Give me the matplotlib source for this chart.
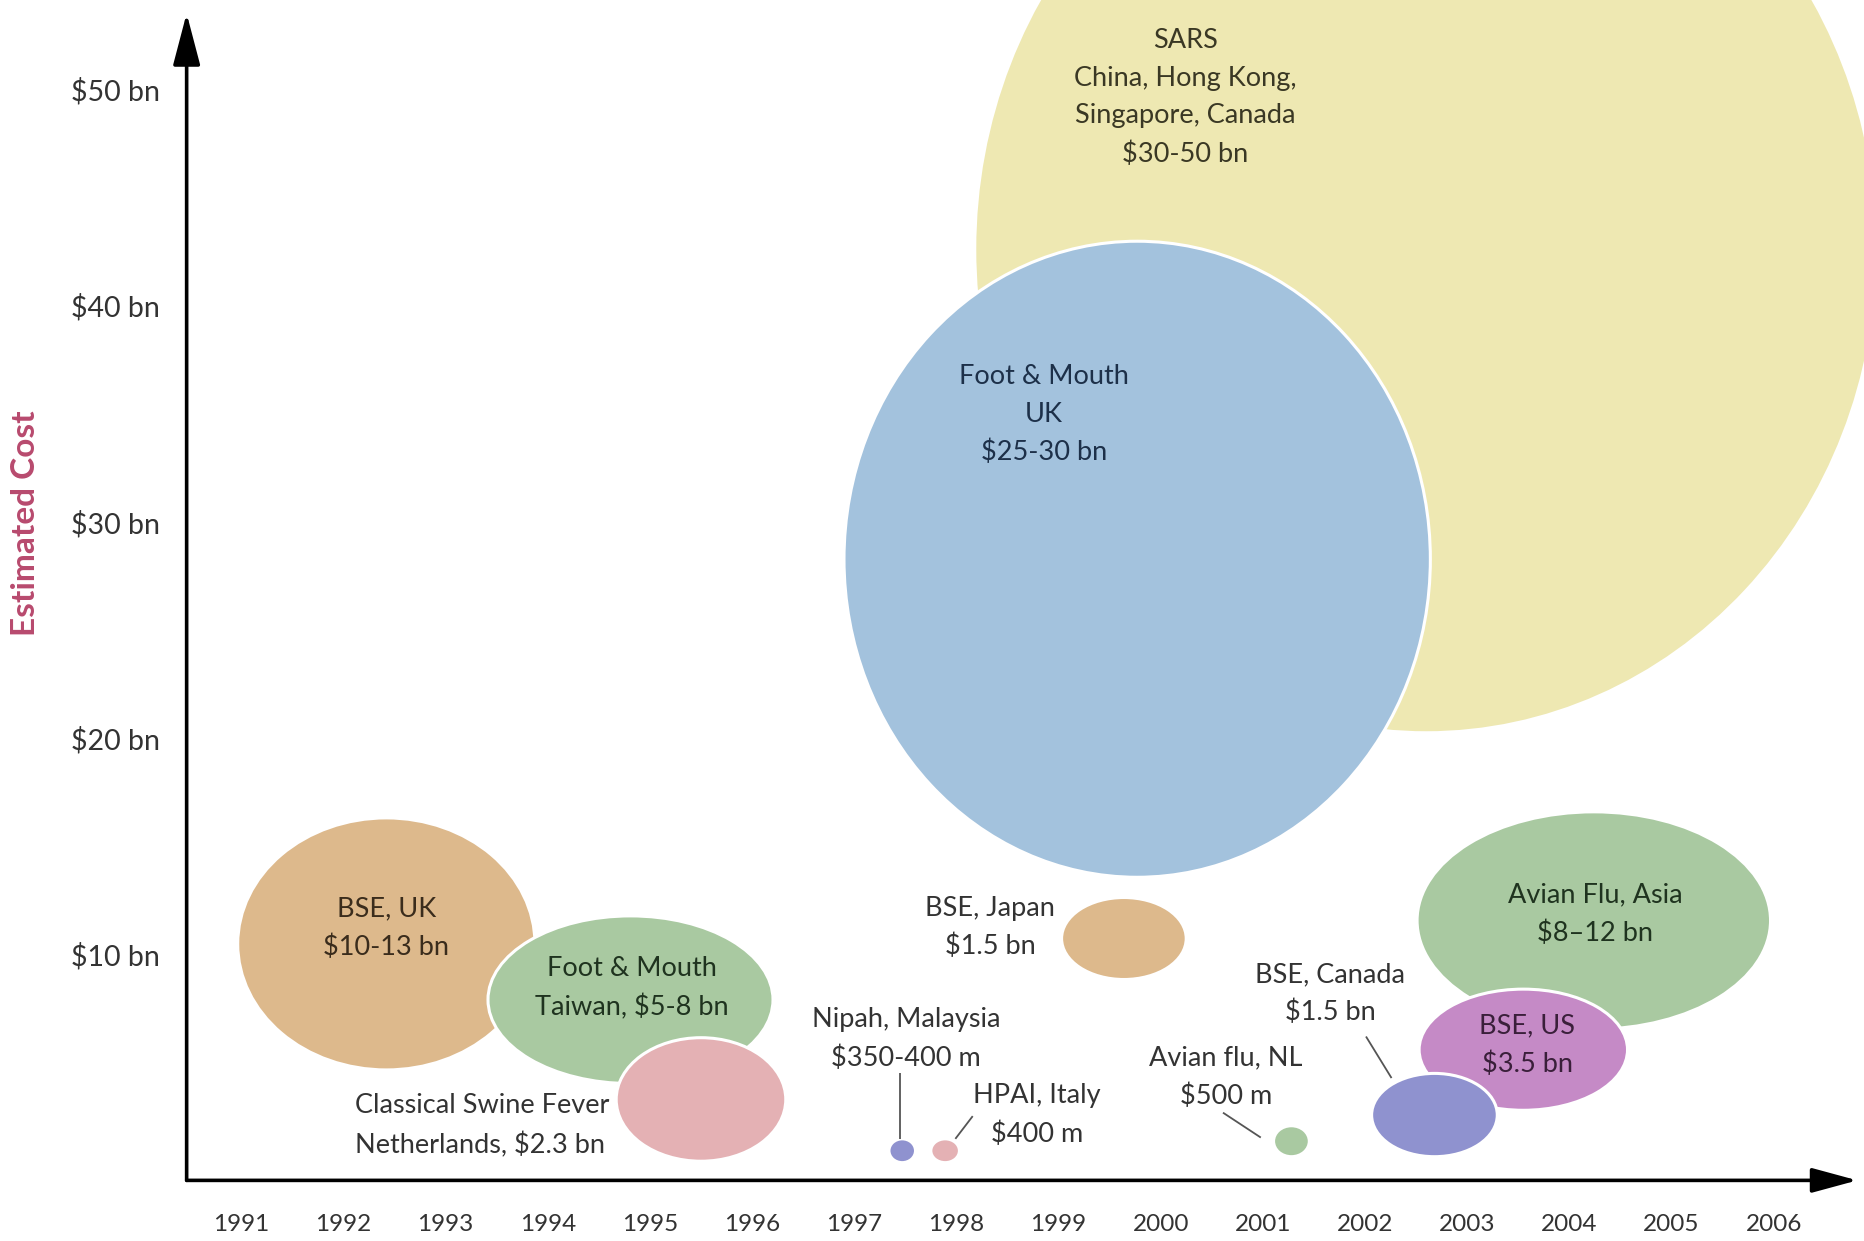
import matplotlib
matplotlib.use("Agg")
import matplotlib.pyplot as plt
from matplotlib.patches import Ellipse

# ---------------- data ----------------
events = ["SARS", "Foot & Mouth UK", "BSE UK", "Foot & Mouth Taiwan",
          "Classical Swine Fever", "BSE Japan", "Nipah", "HPAI Italy",
          "Avian flu NL", "Avian Flu Asia", "BSE US", "BSE Canada"]
event_year = [2002.60, 1999.77, 1992.42, 1994.81, 1995.50, 1999.64,
              1997.47, 1997.89, 2001.28, 2004.24, 2003.55, 2002.68]
event_cost = [42.6, 28.27, 10.49, 7.91, 3.30, 10.74,
              0.93, 0.93, 1.37, 11.57, 5.60, 2.58]
bubble_w = [8.84, 5.74, 2.91, 2.79, 1.66, 1.22,
            0.26, 0.28, 0.35, 3.46, 2.04, 1.23]
bubble_h = [44.7, 29.4, 11.65, 7.75, 5.71, 3.79,
            1.10, 1.10, 1.43, 10.05, 5.60, 3.85]
bubble_colors = ["#EEE8B2", "#A3C2DD", "#DDB98C", "#A9C9A1", "#E4B1B4", "#DDB98C",
                 "#8F92CF", "#E4B1B4", "#A9C9A1", "#A9C9A1", "#C58AC6", "#8F92CF"]

labels = ["SARS\nChina, Hong Kong,\nSingapore, Canada\n$30-50 bn",
          "Foot & Mouth\nUK\n$25-30 bn",
          "BSE, UK\n$10-13 bn",
          "Foot & Mouth\nTaiwan, $5-8 bn",
          "Classical Swine Fever\nNetherlands, $2.3 bn",
          "BSE, Japan\n$1.5 bn",
          "Nipah, Malaysia\n$350-400 m",
          "HPAI, Italy\n$400 m",
          "Avian flu, NL\n$500 m",
          "Avian Flu, Asia\n$8\u201312 bn",
          "BSE, US\n$3.5 bn",
          "BSE, Canada\n$1.5 bn"]

year_ticks = list(range(1991, 2007))
cost_ticks = [10, 20, 30, 40, 50]
cost_tick_labels = ["$10 bn", "$20 bn", "$30 bn", "$40 bn", "$50 bn"]

# ---------------- layout ----------------
label_pos = [(2000.24, 49.62), (1998.86, 34.95), (1992.42, 11.21), (1994.82, 8.46),
             (1994.60, 2.09), (1998.33, 11.26), (1997.51, 6.10), (1998.79, 2.58),
             (2000.64, 4.34), (2004.25, 11.87), (2003.59, 5.82), (2001.66, 8.19)]
label_ha = ["center"] * 4 + ["right"] + ["center"] * 7
label_colors = ["#3a3824", "#1d3049", "#3a2c1c", "#1f331f", "#333333", "#333333",
                "#333333", "#333333", "#333333", "#1f331f", "#3a1f3a", "#333333"]
zorders = [1, 2, 2, 3, 4, 2, 3, 3, 3, 2, 3, 4]

leaders = [((1997.45, 4.51), (1997.45, 1.48)),
           ((1998.16, 2.53), (1997.99, 1.48)),
           ((2000.61, 2.69), (2000.98, 1.54)),
           ((2002.01, 6.21), (2002.26, 4.29))]

FONT = ["Lato", "DejaVu Sans"]
plt.rcParams["font.family"] = FONT

fig = plt.figure(figsize=(18.64, 12.41), dpi=100)
fig.patch.set_facecolor("white")
x0, y0 = 1990.465, -0.44
ax = fig.add_axes([0.10013, 0.04885, 1 - 0.10013, 1 - 0.04885])
ax.set_xlim(x0, 2006.885)
ax.set_ylim(y0, 54.12)
for s in ax.spines.values():
    s.set_visible(False)
ax.set_facecolor("none")

for i in range(len(events)):
    e = Ellipse((event_year[i], event_cost[i]), bubble_w[i], bubble_h[i],
                facecolor=bubble_colors[i], edgecolor="white", linewidth=2.2,
                zorder=zorders[i])
    ax.add_patch(e)
    ax.text(label_pos[i][0], label_pos[i][1], labels[i], ha=label_ha[i], va="center",
            ma=label_ha[i] if label_ha[i] != "right" else "left",
            fontsize=19.5, color=label_colors[i], linespacing=1.63, zorder=10)

for (a, b) in leaders:
    ax.plot([a[0], b[0]], [a[1], b[1]], color="#555555", lw=1.3, zorder=9,
            solid_capstyle="butt")

# axes arrows
ax.annotate("", xy=(x0, 53.5), xytext=(x0, y0),
            arrowprops=dict(arrowstyle="-|>,head_length=1.6,head_width=0.42",
                            mutation_scale=20, lw=2.6, color="black",
                            shrinkA=0, shrinkB=0), annotation_clip=False, zorder=20)
ax.annotate("", xy=(2006.82, y0), xytext=(x0, y0),
            arrowprops=dict(arrowstyle="-|>,head_length=1.4,head_width=0.38",
                            mutation_scale=20, lw=2.6, color="black",
                            shrinkA=0, shrinkB=0), annotation_clip=False, zorder=20)

ax.set_xticks(year_ticks)
ax.set_xticklabels([str(y) for y in year_ticks])
ax.set_yticks(cost_ticks)
ax.set_yticklabels(cost_tick_labels)
ax.tick_params(axis="x", length=0, pad=24, labelsize=17.5, labelcolor="#333333")
ax.tick_params(axis="y", length=0, pad=19, labelsize=20.5, labelcolor="#333333")

fig.text(26 / 1864, 1 - 523 / 1241, "Estimated Cost", rotation=90, ha="center",
         va="center", fontsize=24, fontweight="bold", color="#B84A6E")

fig.savefig("out.png", dpi=100)
